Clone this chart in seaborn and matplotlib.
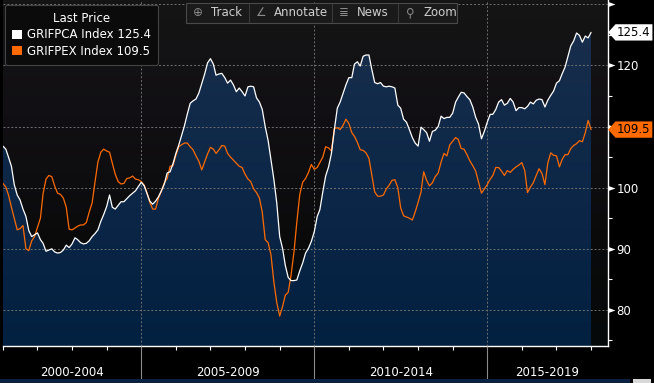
"""Bloomberg-style terminal chart of the GRIFPCA and GRIFPEX indices."""
import matplotlib

matplotlib.use("Agg")

import matplotlib.dates as mdates
import matplotlib.pyplot as plt
import matplotlib.transforms as mtransforms
import numpy as np
import pandas as pd
import seaborn as sns
from matplotlib import font_manager
from matplotlib.colors import LinearSegmentedColormap
from matplotlib.lines import Line2D
from matplotlib.patches import Patch, Rectangle
from matplotlib.path import Path

# Monthly index levels, January 2001 - January 2018 (one row per year)
GRIFPCA = [
    106.8, 106.3, 105.0, 103.5, 100.5, 98.8, 98.0, 96.5, 95.3, 93.0, 92.0, 92.3,
    92.6, 91.5, 90.9, 89.6, 89.8, 90.0, 89.5, 89.3, 89.4, 89.8, 90.6, 90.2,
    90.8, 91.8, 91.5, 91.0, 90.8, 90.9, 91.3, 92.0, 92.5, 93.1, 94.5, 95.6,
    96.9, 98.8, 96.8, 96.5, 97.1, 97.7, 97.7, 98.2, 98.7, 99.1, 99.5, 100.2,
    100.9, 100.3, 99.1, 97.8, 97.3, 97.8, 98.5, 99.5, 100.6, 102.4, 102.6, 103.9,
    105.6, 107.0, 108.5, 110.1, 112.0, 113.8, 114.2, 114.5, 115.5, 117.0, 118.6, 120.4,
    121.1, 120.2, 118.4, 118.6, 118.7, 118.0, 117.1, 117.6, 116.8, 115.7, 116.3, 115.7,
    115.0, 116.5, 116.6, 116.5, 114.7, 114.0, 112.8, 110.0, 107.7, 104.5, 101.3, 97.5,
    92.0, 90.0, 87.3, 85.3, 84.8, 84.8, 84.9, 86.4, 87.7, 89.3, 90.1, 91.2,
    92.8, 95.3, 96.4, 99.3, 101.9, 103.4, 105.6, 109.5, 113.0, 114.0, 115.4, 116.8,
    118.0, 118.0, 120.2, 120.6, 119.9, 121.5, 121.7, 121.7, 119.3, 117.2, 117.0, 117.2,
    116.6, 116.5, 116.6, 116.5, 116.3, 113.5, 113.0, 111.2, 110.7, 109.5, 108.2, 107.3,
    106.8, 109.9, 109.5, 109.0, 107.6, 109.2, 109.4, 110.0, 111.7, 111.3, 111.5, 111.5,
    112.2, 114.0, 114.8, 115.6, 115.5, 114.9, 114.4, 113.2, 111.5, 110.4, 108.0, 109.2,
    110.7, 112.0, 112.0, 112.8, 114.0, 114.4, 113.5, 113.8, 114.6, 114.0, 112.6, 113.1,
    113.1, 112.9, 113.3, 114.0, 113.7, 114.3, 114.5, 114.4, 113.2, 114.3, 115.1, 115.8,
    117.1, 117.5, 118.6, 119.7, 121.4, 123.2, 124.0, 125.3, 124.9, 123.8, 124.8, 124.5,
    125.4,
]
GRIFPEX = [
    100.7, 100.1, 98.8, 96.8, 95.0, 93.1, 93.3, 93.8, 90.0, 89.7, 91.3, 92.0,
    93.5, 95.0, 99.0, 101.4, 102.0, 101.8, 100.3, 99.1, 98.9, 98.3, 96.8, 93.2,
    93.1, 93.4, 93.7, 93.9, 93.9, 94.3, 96.0, 97.5, 101.0, 104.2, 105.8, 106.3,
    106.0, 105.8, 104.0, 102.2, 101.0, 100.6, 100.7, 101.5, 101.6, 101.9, 101.4, 101.3,
    101.0, 100.4, 99.2, 97.6, 96.5, 96.5, 98.3, 99.4, 100.8, 101.5, 103.5, 103.6,
    105.3, 106.7, 107.0, 107.3, 107.3, 106.7, 106.2, 105.2, 104.3, 102.9, 104.2, 105.5,
    106.6, 106.3, 105.6, 106.2, 106.9, 106.8, 105.6, 105.0, 104.5, 104.0, 103.5, 103.3,
    102.2, 101.4, 101.0, 99.8, 99.2, 98.3, 96.0, 91.5, 91.0, 89.0, 84.5, 81.2,
    79.0, 80.6, 82.4, 82.9, 85.7, 89.5, 94.4, 98.9, 100.9, 101.5, 102.5, 103.8,
    103.0, 103.3, 104.1, 105.0, 106.7, 106.5, 106.0, 109.7, 109.8, 109.5, 110.2, 111.2,
    110.5, 109.0, 108.4, 107.4, 106.2, 106.1, 105.7, 104.8, 102.0, 99.3, 98.6, 98.6,
    98.8, 99.8, 100.4, 101.2, 101.3, 100.0, 96.7, 95.4, 95.2, 95.0, 94.7, 96.0,
    97.6, 99.3, 102.6, 101.2, 100.3, 100.8, 101.8, 102.4, 104.2, 105.6, 105.2, 107.0,
    107.6, 108.2, 107.9, 106.4, 106.3, 105.4, 104.4, 103.6, 102.7, 100.9, 99.1, 99.8,
    100.5, 101.4, 102.0, 103.3, 103.3, 102.7, 102.0, 102.8, 102.5, 103.0, 103.4, 103.7,
    104.1, 102.8, 99.2, 100.1, 100.8, 102.0, 103.1, 102.3, 100.5, 104.0, 105.7, 105.3,
    105.2, 103.4, 104.6, 105.4, 105.4, 106.4, 106.9, 107.2, 107.7, 107.5, 109.0, 111.0,
    109.5,
]
START_MONTH = "2001-01-01"
SERIES_NAMES = ["GRIFPCA Index", "GRIFPEX Index"]
SERIES_COLORS = ["#ffffff", "#ff6a00"]

PERIOD_LABELS = ["2000-2004", "2005-2009", "2010-2014", "2015-2019"]
PERIOD_EDGES = ["2000-01-01", "2005-01-01", "2010-01-01", "2015-01-01", "2020-01-01"]
Y_TICKS = [80, 90, 100, 110, 120, 130]
Y_TICK_LABELS = ["80", "90", "100", "", "120", ""]
Y_MINOR_TICKS = [75, 85, 95, 105, 115, 125]

TOOLBAR_LABELS = ["Track", "Annotate", "News", "Zoom"]
TOOLBAR_ICONS = ["\u2295", "\u2220", "\u2263", "\u26b2"]

W, H = 654, 383


def fig_xy(x, y):
    """Pixel position measured from the top left -> figure fraction."""
    return x / W, 1 - y / H


def tag_box(x0, y0, width, height, mutation_size):
    """Price tag box pointing left, used for the last value labels."""
    pad = mutation_size * 0.14
    x0, y0 = x0 - pad, y0 - pad
    x1, y1 = x0 + width + 2 * pad, y0 + height + 2 * pad
    tip = (y1 - y0) * 0.45
    ym = (y0 + y1) / 2
    return Path(
        [(x0, y0), (x1, y0), (x1, y1), (x0, y1), (x0 - tip, ym), (x0, y0)],
        closed=True,
    )


# Theme and fonts
sns.set_theme(style="dark")
available = {f.name for f in font_manager.fontManager.ttflist}
if "Liberation Sans Narrow" in available:
    FONT, FS = "Liberation Sans Narrow", 10.5
else:
    FONT, FS = "DejaVu Sans", 8.5
plt.rcParams["font.family"] = [FONT, "DejaVu Sans"]

# Data
dates = pd.date_range(START_MONTH, periods=len(GRIFPCA), freq="MS")
df = pd.DataFrame({"date": dates, SERIES_NAMES[0]: GRIFPCA, SERIES_NAMES[1]: GRIFPEX})
long_df = df.melt("date", var_name="series", value_name="level")

fig = plt.figure(figsize=(W / 100, H / 100), dpi=100, facecolor="black")
ax = fig.add_axes([2.9 / W, 37 / H, (607.7 - 2.9) / W, 346 / H])
ax.set_facecolor("#0e0e0e")

x_start = mdates.date2num(dates[0])
x_last = mdates.date2num(dates[-1])
x_lim = (x_start, x_start + 17.48 * 365.25)
y_lim = (74.1, 130.7)

# Background gradient of the plot area
bg_cmap = LinearSegmentedColormap.from_list(
    "bg", ["#151515", "#110f13", "#0b0b0c", "#060909"]
)
ax.imshow(
    np.linspace(0, 1, 256)[:, None], cmap=bg_cmap, extent=[0, 1, 0, 1],
    transform=ax.transAxes, aspect="auto", zorder=0,
)

# Navy gradient under the GRIFPCA line
area = ax.fill_between(
    df["date"], df[SERIES_NAMES[0]], y_lim[0] - 5, facecolor="none", edgecolor="none"
)
fill_cmap = LinearSegmentedColormap.from_list(
    "fill", ["#1c2f4c", "#112a4a", "#0a2546", "#02203f"]
)
grad = ax.imshow(
    np.linspace(0, 1, 256)[:, None], cmap=fill_cmap,
    extent=[x_start, x_last, y_lim[0], y_lim[1]], aspect="auto", zorder=1,
)
grad.set_clip_path(area.get_paths()[0], ax.transData)

# Lines
sns.lineplot(
    data=long_df, x="date", y="level", hue="series",
    hue_order=SERIES_NAMES[::-1],
    palette=dict(zip(SERIES_NAMES, SERIES_COLORS)),
    linewidth=0.9, legend=False, zorder=3, ax=ax,
)

ax.set_xlim(*x_lim)
ax.set_ylim(*y_lim)
ax.set_aspect("auto")
ax.set_xlabel("")
ax.set_ylabel("")

# Axes, ticks and grid
ax.set_axisbelow(False)
ax.xaxis.set_major_locator(mdates.YearLocator(5))
ax.xaxis.set_minor_locator(mdates.YearLocator(1))
ax.yaxis.tick_right()
ax.set_yticks(Y_TICKS)
ax.set_yticklabels(Y_TICK_LABELS)
ax.set_yticks(Y_MINOR_TICKS, minor=True)
ax.grid(which="major", color="#707070", linestyle=(0, (2, 2)), linewidth=0.7)
ax.grid(which="minor", visible=False)

ax.tick_params(axis="x", which="major", direction="out", length=26.6,
               width=0.8, color="#8a8a8a", labelbottom=False, bottom=True)
ax.tick_params(axis="x", which="minor", direction="out", length=3,
               width=0.8, color="white", bottom=True)
ax.tick_params(axis="y", which="major", length=0, pad=6.5,
               labelcolor="white", labelsize=FS, right=True, left=False)
ax.tick_params(axis="y", which="minor", direction="out", length=3,
               width=0.8, color="white", right=True, left=False)

for side in ["left", "top"]:
    ax.spines[side].set_visible(False)
for side in ["bottom", "right"]:
    ax.spines[side].set_color("white")
    ax.spines[side].set_linewidth(1.0)

# Triangle major ticks on the right axis
y_trans = mtransforms.blended_transform_factory(ax.transAxes, ax.transData)
tri = Path([(0, -0.36), (0, 0.36), (1, 0), (0, -0.36)], closed=True)
ax.add_line(Line2D(
    [1.0] * len(Y_TICKS), Y_TICKS, linestyle="none", marker=tri,
    markersize=10, color="white", markeredgewidth=0,
    transform=y_trans, clip_on=False, zorder=5,
))

# Period labels under the axis, centred in the visible span
x_trans = mtransforms.blended_transform_factory(ax.transData, ax.transAxes)
for label, lo, hi in zip(PERIOD_LABELS, PERIOD_EDGES[:-1], PERIOD_EDGES[1:]):
    lo = max(mdates.datestr2num(lo), x_lim[0])
    hi = min(mdates.datestr2num(hi), x_lim[1])
    ax.text((lo + hi) / 2, -26 / 346, label, transform=x_trans,
            ha="center", va="center", color="white", fontsize=FS)

# Last value tags
for name, color in zip(SERIES_NAMES, SERIES_COLORS):
    last = df[name].iloc[-1]
    ax.annotate(
        f"{last:.1f}", xy=(1.0, last), xycoords=y_trans,
        xytext=(6.8, 0), textcoords="offset points",
        ha="left", va="center", color="black", fontsize=FS,
        bbox=dict(boxstyle=tag_box, fc=color, ec="none"),
        annotation_clip=False, zorder=6,
    )

# Legend
handles = [
    Patch(facecolor=c, edgecolor="none", label=f"{n} {df[n].iloc[-1]:.1f}")
    for n, c in zip(SERIES_NAMES, SERIES_COLORS)
]
leg = ax.legend(
    handles=handles, title="Last Price", loc="upper left",
    bbox_to_anchor=fig_xy(5, 5), bbox_transform=fig.transFigure,
    borderaxespad=0, frameon=True, fancybox=True, facecolor="#0b0b0b",
    edgecolor="#444444", framealpha=1, labelcolor="white", fontsize=FS,
    title_fontsize=FS, handlelength=0.85, handleheight=0.85,
    handletextpad=0.4, borderpad=0.6, labelspacing=0.28,
)
leg.get_title().set_color("white")
leg.get_frame().set_linewidth(0.8)
leg.set_zorder(10)

# Toolbar
edges = [186, 249, 332, 398, 457]
fig.add_artist(Rectangle(
    fig_xy(edges[0], 23), (edges[-1] - edges[0]) / W, 20 / H,
    transform=fig.transFigure, facecolor="#1a1a1a", edgecolor="#4a4a4a",
    linewidth=0.8, zorder=20,
))
for i, (icon, label) in enumerate(zip(TOOLBAR_ICONS, TOOLBAR_LABELS)):
    left = edges[i]
    if i > 0:
        fig.add_artist(Line2D(
            [left / W] * 2, [1 - 4 / H, 1 - 22 / H],
            transform=fig.transFigure, color="#3a3a3a", linewidth=0.8, zorder=21,
        ))
    fig.text(*fig_xy(left + 12, 13), icon, ha="center", va="center",
             color="#8c8c8c", fontsize=FS, family="DejaVu Sans", zorder=22)
    fig.text(*fig_xy(left + 25, 13), label, ha="left", va="center",
             color="#cfcfcf", fontsize=FS, zorder=22)

# Scroll strip along the bottom edge
fig.add_artist(Rectangle(fig_xy(0, 383), 630 / W, 4 / H, transform=fig.transFigure,
                         facecolor="#0b2142", edgecolor="none", zorder=20))
fig.add_artist(Rectangle(fig_xy(633, 383), 18 / W, 4 / H, transform=fig.transFigure,
                         facecolor="#d8d8d8", edgecolor="none", zorder=20))

fig.savefig("out.png", dpi=100, facecolor="black")
